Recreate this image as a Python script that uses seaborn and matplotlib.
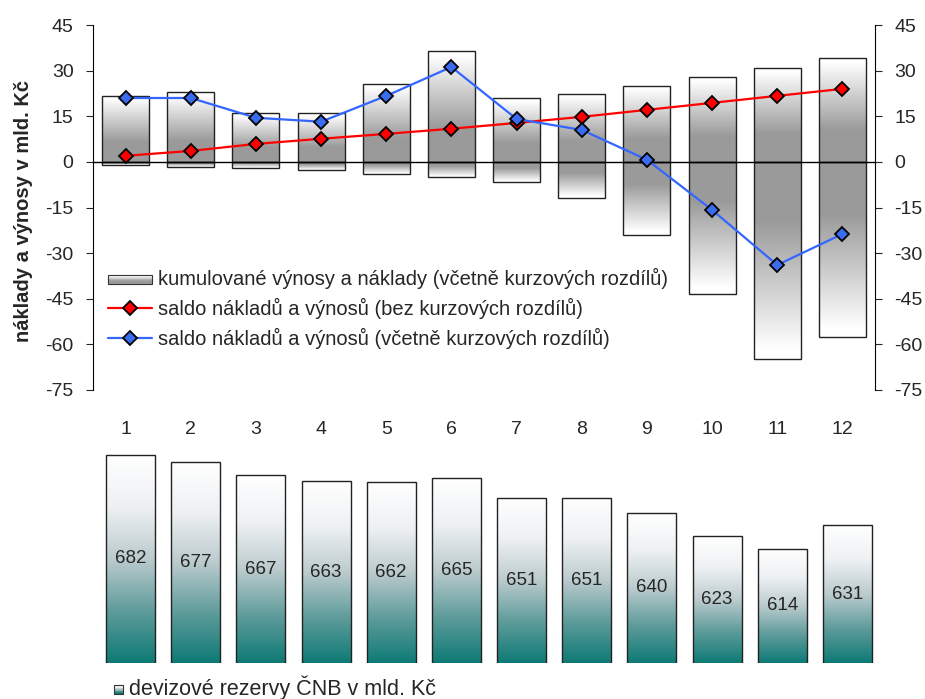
import numpy as np
import matplotlib
matplotlib.use("Agg")
import matplotlib.pyplot as plt
import seaborn as sns
import pandas as pd
from matplotlib.colors import LinearSegmentedColormap
from matplotlib.patches import Rectangle
from matplotlib.lines import Line2D
from matplotlib.legend_handler import HandlerBase

sns.set_style("white")
plt.rcParams["font.family"] = ["Liberation Sans", "DejaVu Sans"]
plt.rcParams["axes.unicode_minus"] = False

# data
months = [1, 2, 3, 4, 5, 6, 7, 8, 9, 10, 11, 12]
vynosy = [21.7, 23.0, 16.0, 16.0, 25.7, 36.5, 21.0, 22.4, 25.0, 28.0, 31.0, 34.2]
naklady = [-1.0, -1.6, -2.0, -2.6, -4.0, -5.0, -6.5, -11.8, -24.0, -43.4, -64.8, -57.6]
saldo_bez = [2.0, 3.6, 5.9, 7.6, 9.2, 10.9, 12.8, 14.8, 17.1, 19.4, 21.7, 24.0]
saldo_vc = [21.0, 21.0, 14.5, 13.2, 21.7, 31.2, 14.1, 10.5, 0.7, -15.8, -33.9, -23.7]
rezervy = [682, 677, 667, 663, 662, 665, 651, 651, 640, 623, 614, 631]
yticks = [45, 30, 15, 0, -15, -30, -45, -60, -75]

df = pd.DataFrame({"mesic": [str(m) for m in months], "vynosy": vynosy, "naklady": naklady,
                   "saldo_bez": saldo_bez, "saldo_vc": saldo_vc, "rezervy": rezervy})

gray_cmap = LinearSegmentedColormap.from_list(
    "g", [(0.0, "#9a9a9a"), (0.3, "#9a9a9a"), (0.95, "#ffffff"), (1.0, "#ffffff")])
teal_cmap = LinearSegmentedColormap.from_list(
    "t", [(0.0, "#0e7a75"), (0.25, "#5f9c9b"), (0.5, "#bccbce"), (0.75, "#eef1f3"), (1.0, "#ffffff")])

FS = 14
W, H = 925, 699
fig = plt.figure(figsize=(W / 100, H / 100), dpi=100)

# top panel
ax = fig.add_axes([93 / W, (H - 390) / H, 782 / W, 365 / H])
sns.barplot(data=df, x="mesic", y="vynosy", ax=ax, width=0.72, facecolor="none",
            edgecolor="#222222", linewidth=1.0, zorder=3)
sns.barplot(data=df, x="mesic", y="naklady", ax=ax, width=0.72, facecolor="none",
            edgecolor="#222222", linewidth=1.0, zorder=3)
grad = np.linspace(0, 1, 256).reshape(-1, 1)
for p in ax.patches:
    x0, w = p.get_x(), p.get_width()
    y0, h = p.get_y(), p.get_height()
    top, bot = max(y0, y0 + h), min(y0, y0 + h)
    if top > 0:
        # white at top, gray at base
        ax.imshow(grad, cmap=gray_cmap, origin="lower", aspect="auto",
                  extent=[x0, x0 + w, bot, top], zorder=2)
    else:
        ax.imshow(grad[::-1], cmap=gray_cmap, origin="lower", aspect="auto",
                  extent=[x0, x0 + w, bot, top], zorder=2)

ax.axhline(0, color="black", lw=1.0, zorder=4)
sns.lineplot(x=np.arange(12), y=df["saldo_bez"], ax=ax, color="#ff0000", lw=1.6,
             marker="D", markersize=7, markerfacecolor="#ff0000", markeredgecolor="black",
             markeredgewidth=1.3, zorder=5)
sns.lineplot(x=np.arange(12), y=df["saldo_vc"], ax=ax, color="#3366ff", lw=1.6,
             marker="D", markersize=7, markerfacecolor="#3a6cf0", markeredgecolor="black",
             markeredgewidth=1.3, zorder=5)

ax.set_xlim(-0.5, 11.5)
ax.set_ylim(-75, 45)
ax.set_yticks(yticks)
ax.set_xlabel("")
ax.set_ylabel("")
for s in ["top", "bottom", "right"]:
    ax.spines[s].set_visible(False)
ax.spines["left"].set_color("black")
ax.spines["left"].set_linewidth(0.8)
ax.tick_params(axis="y", direction="out", length=5, width=0.8, labelsize=FS, pad=9, left=True)
ax.tick_params(axis="x", length=0, labelsize=FS, pad=22)

ax2 = ax.twinx()
ax2.set_ylim(-75, 45)
ax2.set_yticks(yticks)
for s in ["top", "bottom", "left"]:
    ax2.spines[s].set_visible(False)
ax2.spines["right"].set_color("black")
ax2.spines["right"].set_linewidth(0.8)
ax2.tick_params(axis="y", direction="out", length=5, width=0.8, labelsize=FS, pad=9, right=True)

fig.text(24 / W, 1 - 211 / H, "náklady a výnosy v mld. Kč", rotation=90, ha="center",
         va="center", fontsize=14.5, fontweight="bold")


class GradHandler(HandlerBase):
    def __init__(self, cmap, square=False):
        super().__init__()
        self.cmap = cmap
        self.square = square

    def create_artists(self, legend, orig, xd, yd, width, height, fontsize, trans):
        if self.square:
            s = height * 0.6
            x0, y0, w, h = xd + width - s, yd + (height - s) / 2 - 1, s, s
        else:
            x0, y0, w, h = xd, yd + height * 0.1, width, height * 0.6
        arts = []
        n = 12
        for i in range(n):
            c = self.cmap(i / (n - 1))
            arts.append(Rectangle((x0, y0 + h * i / n), w, h / n + 0.3, facecolor=c,
                                  edgecolor="none", transform=trans))
        arts.append(Rectangle((x0, y0), w, h, facecolor="none", edgecolor="#333333",
                              lw=0.8, transform=trans))
        return arts


bar_handle = Rectangle((0, 0), 1, 1)
red_handle = Line2D([], [], color="#ff0000", lw=1.6, marker="D", markersize=7,
                    markerfacecolor="#ff0000", markeredgecolor="black", markeredgewidth=1.3)
blue_handle = Line2D([], [], color="#3366ff", lw=1.6, marker="D", markersize=7,
                     markerfacecolor="#3a6cf0", markeredgecolor="black", markeredgewidth=1.3)
ax2.legend([bar_handle, red_handle, blue_handle],
           ["kumulované výnosy a náklady (včetně kurzových rozdílů)",
            "saldo nákladů a výnosů (bez kurzových rozdílů)",
            "saldo nákladů a výnosů (včetně kurzových rozdílů)"],
           handler_map={bar_handle: GradHandler(gray_cmap)},
           loc="upper left", bbox_to_anchor=(108 / W, 1 - 268 / H), bbox_transform=fig.transFigure,
           frameon=False, fontsize=14.5, handlelength=2.2, handletextpad=0.3,
           labelspacing=0.45, borderaxespad=0, borderpad=0)

# bottom panel
bx = fig.add_axes([98 / W, (H - 663) / H, 782 / W, 233 / H])
sns.barplot(data=df, x="mesic", y="rezervy", ax=bx, width=0.75, facecolor="none",
            edgecolor="#222222", linewidth=1.0, zorder=3)
bx.set_ylim(531, 700)
for p in bx.patches:
    x0, w = p.get_x(), p.get_width()
    bx.imshow(grad, cmap=teal_cmap, origin="lower", aspect="auto",
              extent=[x0, x0 + w, 531, p.get_height()], zorder=2)
    bx.text(x0 + w / 2, (531 + p.get_height()) / 2, f"{p.get_height():.0f}",
            ha="center", va="center", fontsize=13.5, zorder=4)
bx.set_xlim(-0.5, 11.5)
bx.set_ylim(531, 700)
bx.axis("off")

sq_handle = Rectangle((0, 0), 1, 1)
fig.legend([sq_handle], ["devizové rezervy ČNB v mld. Kč"],
           handler_map={sq_handle: GradHandler(teal_cmap, square=True)},
           loc="center left", bbox_to_anchor=(104 / W, 1 - 688 / H), frameon=False,
           fontsize=15.5, handlelength=0.9, handletextpad=0.25, borderpad=0, borderaxespad=0)

fig.savefig("out.png", dpi=100)
